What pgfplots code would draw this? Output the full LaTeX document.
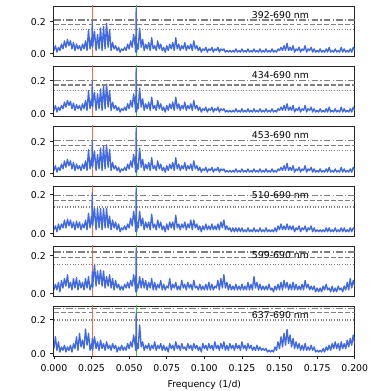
\documentclass[border=0pt]{standalone}
\usepackage{pgfplots}
\pgfplotsset{compat=1.18}
\usepackage{pgfplotstable}
\usepackage{fontspec}
\setmainfont{DejaVu Sans}
\begin{document}
% periodogram power, one column per wavelength band
\pgfplotstableread{
f a b c d e g
0.000 .02 .02 .02 .02 .02 .03
0.001 .05 .05 .05 .04 .05 .10
0.002 .01 .01 .01 .01 .02 .02
0.003 .04 .04 .04 .05 .06 .07
0.004 .02 .02 .02 .02 .01 .01
0.005 .06 .05 .06 .05 .07 .04
0.006 .03 .03 .03 .03 .03 .02
0.007 .08 .07 .08 .07 .08 .05
0.008 .04 .04 .04 .03 .04 .01
0.009 .09 .08 .09 .075 .10 .04
0.010 .05 .05 .05 .04 .03 .02
0.011 .08 .075 .08 .07 .06 .05
0.012 .03 .03 .03 .03 .02 .01
0.013 .07 .065 .07 .06 .08 .06
0.014 .02 .02 .02 .02 .03 .03
0.015 .06 .055 .06 .065 .085 .10
0.016 .03 .03 .03 .03 .02 .02
0.017 .05 .05 .05 .06 .07 .12
0.018 .02 .02 .02 .02 .03 .04
0.019 .06 .06 .06 .05 .06 .08
0.020 .03 .03 .03 .03 .02 .03
0.021 .08 .08 .08 .07 .08 .145
0.022 .02 .02 .02 .02 .03 .05
0.023 .15 .14 .15 .105 .09 .12
0.024 .03 .03 .03 .03 .02 .02
0.025 .10 .09 .10 .09 .05 .06
0.0252 .05 .05 .05 .05 .04 .03
0.0255 .21 .20 .21 .21 .117 .09
0.0258 .04 .04 .04 .04 .03 .02
0.026 .07 .07 .07 .06 .06 .04
0.027 .14 .13 .14 .13 .155 .10
0.028 .02 .02 .02 .02 .04 .03
0.029 .12 .12 .12 .13 .12 .07
0.030 .03 .03 .03 .03 .05 .02
0.031 .16 .15 .16 .13 .125 .08
0.032 .02 .02 .02 .02 .04 .03
0.033 .17 .17 .17 .13 .12 .06
0.034 .03 .03 .03 .03 .03 .02
0.035 .19 .18 .18 .13 .09 .07
0.036 .04 .04 .04 .03 .04 .03
0.037 .15 .14 .15 .09 .10 .05
0.038 .02 .02 .02 .02 .03 .02
0.039 .07 .07 .07 .07 .08 .06
0.040 .03 .03 .03 .03 .02 .03
0.041 .05 .05 .05 .06 .07 .05
0.042 .02 .02 .02 .02 .03 .01
0.043 .04 .04 .04 .05 .05 .04
0.044 .01 .01 .01 .01 .02 .02
0.045 .03 .03 .03 .03 .04 .05
0.046 .02 .02 .02 .02 .02 .02
0.047 .04 .04 .04 .04 .05 .04
0.048 .02 .02 .02 .02 .03 .02
0.049 .06 .06 .06 .05 .06 .06
0.050 .03 .03 .03 .03 .03 .03
0.051 .08 .08 .08 .08 .07 .07
0.052 .04 .04 .04 .04 .04 .04
0.053 .12 .12 .12 .115 .10 .11
0.054 .05 .05 .05 .05 .04 .05
0.0544 .01 .01 .01 .01 .01 .02
0.0547 .284 .275 .284 .233 .239 .241
0.0550 .01 .01 .01 .01 .01 .02
0.0555 .06 .06 .06 .06 .05 .06
0.056 .03 .03 .03 .03 .03 .03
0.057 .16 .155 .16 .115 .09 .17
0.058 .04 .04 .04 .04 .03 .04
0.059 .09 .09 .09 .08 .08 .07
0.060 .02 .02 .02 .02 .03 .02
0.061 .06 .06 .06 .06 .07 .05
0.062 .03 .03 .03 .03 .02 .03
0.063 .07 .07 .07 .06 .06 .06
0.064 .02 .02 .02 .02 .03 .02
0.065 .10 .10 .10 .10 .08 .05
0.066 .03 .03 .03 .03 .02 .03
0.067 .05 .05 .05 .05 .06 .07
0.068 .02 .02 .02 .02 .02 .02
0.069 .08 .08 .08 .07 .05 .05
0.070 .03 .03 .03 .03 .03 .03
0.071 .06 .06 .06 .06 .07 .06
0.072 .02 .02 .02 .02 .02 .02
0.073 .04 .04 .04 .04 .05 .05
0.074 .01 .01 .01 .01 .02 .02
0.075 .05 .05 .05 .05 .04 .04
0.076 .02 .02 .02 .02 .03 .01
0.077 .06 .06 .06 .06 .08 .06
0.078 .03 .03 .03 .03 .02 .03
0.079 .07 .07 .07 .06 .05 .05
0.080 .02 .02 .02 .02 .03 .02
0.081 .10 .10 .10 .095 .06 .07
0.082 .03 .03 .03 .03 .02 .03
0.083 .06 .06 .06 .05 .04 .05
0.084 .02 .02 .02 .02 .02 .02
0.085 .05 .05 .05 .05 .07 .06
0.086 .03 .03 .03 .03 .03 .03
0.087 .07 .07 .07 .06 .05 .04
0.088 .02 .02 .02 .02 .02 .02
0.089 .05 .05 .05 .05 .06 .06
0.090 .03 .03 .03 .03 .03 .03
0.091 .06 .06 .06 .07 .05 .05
0.092 .02 .02 .02 .02 .02 .02
0.093 .08 .08 .08 .07 .07 .06
0.094 .03 .03 .03 .03 .03 .03
0.095 .05 .05 .05 .05 .04 .05
0.096 .02 .02 .02 .02 .02 .02
0.097 .04 .04 .04 .04 .05 .04
0.098 .01 .01 .01 .01 .02 .01
0.099 .03 .03 .03 .04 .04 .06
0.100 .02 .02 .02 .02 .02 .03
0.101 .04 .04 .04 .05 .05 .05
0.102 .01 .01 .01 .02 .02 .02
0.103 .03 .03 .03 .04 .06 .06
0.104 .02 .02 .02 .02 .02 .03
0.105 .04 .04 .04 .05 .05 .05
0.106 .01 .01 .01 .02 .02 .02
0.107 .03 .03 .03 .04 .04 .07
0.108 .02 .02 .02 .02 .03 .03
0.109 .04 .04 .04 .05 .07 .05
0.110 .01 .01 .01 .02 .02 .02
0.111 .03 .03 .03 .06 .08 .06
0.112 .02 .02 .02 .03 .03 .03
0.113 .03 .03 .03 .07 .10 .07
0.114 .01 .01 .01 .02 .03 .02
0.115 .02 .02 .02 .04 .06 .05
0.116 .01 .01 .01 .02 .02 .02
0.117 .02 .02 .02 .03 .05 .06
0.118 .01 .01 .01 .01 .02 .03
0.119 .02 .02 .02 .03 .04 .05
0.120 .01 .01 .01 .01 .02 .02
0.121 .03 .03 .03 .03 .05 .06
0.122 .01 .01 .01 .01 .02 .03
0.123 .02 .02 .02 .03 .04 .05
0.124 .01 .01 .01 .01 .02 .02
0.125 .03 .03 .03 .03 .05 .07
0.126 .01 .01 .01 .01 .02 .03
0.127 .02 .02 .02 .02 .04 .05
0.128 .01 .01 .01 .01 .02 .02
0.129 .03 .03 .03 .03 .06 .06
0.130 .01 .01 .01 .01 .02 .03
0.131 .02 .02 .02 .02 .05 .05
0.132 .01 .01 .01 .01 .02 .02
0.133 .03 .03 .03 .03 .09 .04
0.134 .01 .01 .01 .01 .03 .02
0.135 .02 .02 .02 .02 .06 .05
0.136 .01 .01 .01 .01 .02 .02
0.137 .03 .03 .03 .03 .05 .04
0.138 .01 .01 .01 .01 .02 .02
0.139 .02 .02 .02 .02 .04 .03
0.140 .01 .01 .01 .01 .02 .02
0.141 .03 .03 .03 .03 .04 .03
0.142 .01 .01 .01 .01 .02 .01
0.143 .02 .02 .02 .02 .05 .02
0.144 .01 .01 .01 .01 .02 .01
0.145 .03 .03 .03 .02 .03 .02
0.146 .01 .01 .01 .01 .01 .01
0.147 .02 .02 .02 .03 .04 .04
0.148 .01 .01 .01 .01 .02 .02
0.149 .03 .03 .03 .04 .05 .07
0.150 .02 .02 .02 .02 .02 .03
0.151 .04 .04 .04 .05 .06 .10
0.152 .02 .02 .02 .02 .02 .04
0.153 .05 .05 .05 .04 .07 .12
0.154 .02 .02 .02 .02 .03 .05
0.155 .065 .06 .065 .05 .06 .143
0.156 .02 .02 .02 .02 .02 .06
0.157 .04 .04 .04 .04 .05 .11
0.158 .02 .02 .02 .02 .02 .04
0.159 .05 .05 .05 .04 .06 .09
0.160 .01 .01 .01 .01 .02 .03
0.161 .03 .03 .03 .03 .05 .07
0.162 .02 .02 .02 .02 .02 .03
0.163 .04 .04 .04 .04 .04 .06
0.164 .01 .01 .01 .01 .02 .02
0.165 .03 .03 .03 .03 .05 .05
0.166 .02 .02 .02 .02 .02 .02
0.167 .05 .05 .05 .04 .07 .06
0.168 .01 .01 .01 .01 .03 .02
0.169 .03 .03 .03 .03 .05 .04
0.170 .02 .02 .02 .02 .02 .02
0.171 .04 .04 .04 .04 .04 .05
0.172 .01 .01 .01 .01 .02 .02
0.173 .03 .03 .03 .03 .04 .04
0.174 .01 .01 .01 .01 .01 .01
0.175 .02 .02 .02 .02 .03 .02
0.176 .01 .01 .01 .01 .01 .01
0.177 .03 .03 .03 .02 .03 .02
0.178 .01 .01 .01 .01 .01 .01
0.179 .02 .02 .02 .02 .04 .03
0.180 .01 .01 .01 .01 .02 .01
0.181 .03 .03 .03 .03 .05 .04
0.182 .01 .01 .01 .01 .02 .02
0.183 .04 .04 .04 .03 .03 .05
0.184 .01 .01 .01 .01 .01 .02
0.185 .02 .02 .02 .02 .04 .06
0.186 .01 .01 .01 .01 .01 .03
0.187 .03 .03 .03 .03 .03 .07
0.188 .01 .01 .01 .01 .01 .03
0.189 .02 .02 .02 .02 .04 .06
0.190 .01 .01 .01 .01 .02 .02
0.191 .04 .04 .04 .03 .03 .07
0.192 .01 .01 .01 .01 .01 .03
0.193 .03 .03 .03 .03 .04 .06
0.194 .01 .01 .01 .01 .02 .03
0.195 .02 .02 .02 .02 .06 .08
0.196 .01 .01 .01 .01 .02 .04
0.197 .03 .03 .03 .03 .08 .09
0.198 .01 .01 .01 .01 .03 .05
0.199 .04 .04 .04 .03 .07 .11
0.200 .02 .02 .02 .02 .04 .06
}\spec
\definecolor{specblue}{HTML}{4169E1}
\definecolor{markorange}{HTML}{FF6A3D}
\definecolor{markgreen}{HTML}{32CD32}
\definecolor{framegrey}{HTML}{262626}
\pgfplotsset{
  panel/.style={
    scale only axis,width=225.6pt,height=37.5pt,anchor=north west,
    xmin=0,xmax=0.2,
    font=\fontsize{7}{8.4}\selectfont,
    /pgf/number format/assume math mode=true,
    axis line style={framegrey,line width=0.7pt},
    tick style={framegrey,line width=0.6pt},
    tick align=outside,major tick length=2.6pt,tick pos=left,
    ytick={0,0.2},
    yticklabel style={/pgf/number format/fixed,/pgf/number format/fixed zerofill,/pgf/number format/precision=1},
    xtick=\empty},
  thr/.style={gray,line width=0.9pt}}
% #1 column, #2 top, #3 ymin, #4 ymax, #5-#7 levels, #8 band, #9 extra options
\newcommand{\panel}[9]{%
\begin{axis}[panel,at={(21.375pt,#2)},ymin=#3,ymax=#4,#9]
\addplot[markorange,line width=1pt] coordinates {(0.0255,-1) (0.0255,1)};
\addplot[markgreen,line width=1pt] coordinates {(0.0547,-1) (0.0547,1)};
\addplot[specblue,line width=1pt,line join=round] table[x=f,y=#1] {\spec};
\addplot[thr,dash pattern=on 5pt off 1.6pt on 1pt off 1.6pt] coordinates {(0,#5) (0.2,#5)};
\addplot[thr,dash pattern=on 3.6pt off 1.6pt] coordinates {(0,#6) (0.2,#6)};
\addplot[thr,dash pattern=on 0.8pt off 1.2pt] coordinates {(0,#7) (0.2,#7)};
\node at (rel axis cs:0.753,0.82) {#8};
\end{axis}}
\begin{tikzpicture}
\path[use as bounding box] (0,0) rectangle (261.75pt,293.25pt);
\panel{a}{288.75pt}{-0.0142}{0.298}{0.211}{0.183}{0.150}{392-690 nm}{}
\panel{b}{243.75pt}{-0.0138}{0.289}{0.202}{0.174}{0.141}{434-690 nm}{}
\panel{c}{198.75pt}{-0.0142}{0.298}{0.206}{0.177}{0.144}{453-690 nm}{}
\panel{d}{153.75pt}{-0.0117}{0.245}{0.198}{0.171}{0.137}{510-690 nm}{}
\panel{e}{108.75pt}{-0.0120}{0.251}{0.219}{0.191}{0.154}{599-690 nm}{}
\panel{g}{63.75pt}{-0.0134}{0.281}{0.268}{0.241}{0.198}{637-690 nm}{xtick={0,0.025,0.05,0.075,0.1,0.125,0.15,0.175,0.2},xticklabel style={/pgf/number format/fixed,/pgf/number format/fixed zerofill,/pgf/number format/precision=3},xlabel={Frequency (1/d)}}
\end{tikzpicture}
\end{document}
